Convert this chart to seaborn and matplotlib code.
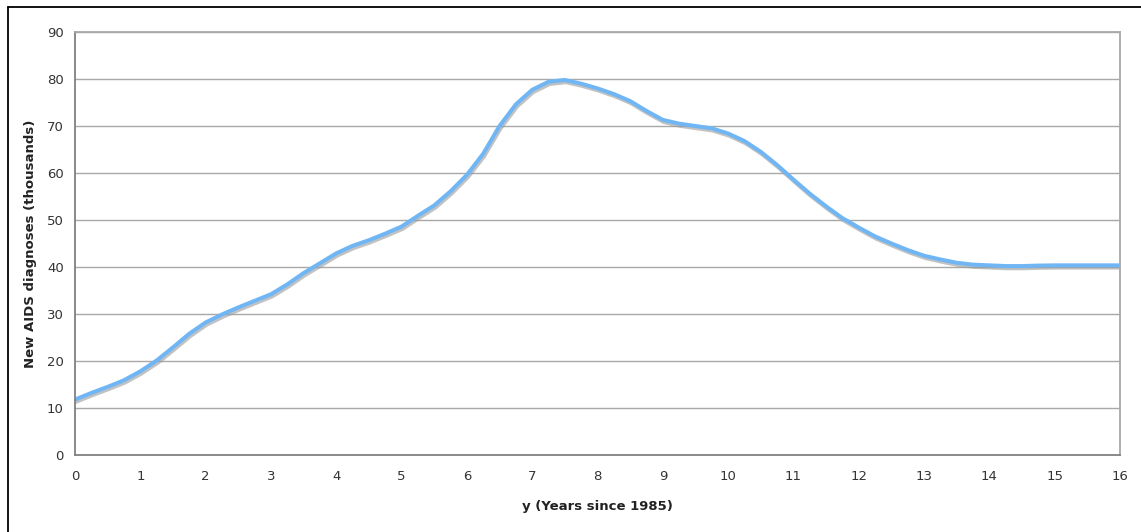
import matplotlib
matplotlib.use("Agg")
import matplotlib.pyplot as plt
import matplotlib.patheffects as pe
from matplotlib.lines import Line2D
import seaborn as sns
import pandas as pd

jahre = [0, 0.25, 0.5, 0.75, 1, 1.25, 1.5, 1.75, 2, 2.25, 2.5, 2.75, 3, 3.25, 3.5, 3.75,
         4, 4.25, 4.5, 4.75, 5, 5.25, 5.5, 5.75, 6, 6.25, 6.5, 6.75, 7, 7.25, 7.5, 7.75,
         8, 8.25, 8.5, 8.75, 9, 9.25, 9.5, 9.75, 10, 10.25, 10.5, 10.75, 11, 11.25, 11.5, 11.75,
         12, 12.25, 12.5, 12.75, 13, 13.25, 13.5, 13.75, 14, 14.25, 14.5, 14.75, 15, 15.5, 16]
diagnosen = [11.8, 13.2, 14.5, 15.9, 17.8, 20.1, 22.9, 25.8, 28.2, 29.9, 31.4, 32.8, 34.2, 36.3, 38.7, 40.8,
             42.9, 44.5, 45.7, 47.1, 48.6, 50.9, 53.1, 56.1, 59.6, 64.1, 70.0, 74.6, 77.7, 79.4, 79.8, 79.0,
             78.0, 76.8, 75.3, 73.2, 71.3, 70.5, 70.0, 69.5, 68.4, 66.8, 64.5, 61.7, 58.6, 55.6, 52.9, 50.4,
             48.4, 46.5, 45.0, 43.6, 42.4, 41.6, 40.9, 40.5, 40.35, 40.2, 40.2, 40.3, 40.35, 40.35, 40.35]

x_ticks = list(range(0, 17))
y_ticks = list(range(0, 91, 10))

df = pd.DataFrame({'jahr': jahre, 'neu': diagnosen})

sns.set_style('white')
plt.rcParams['font.family'] = ['DejaVu Sans']

fig = plt.figure(figsize=(11.41, 5.32), dpi=100)
ax = fig.add_axes([75 / 1141, 1 - 455 / 532, (1120 - 75) / 1141, (455 - 32) / 532])

for y in y_ticks[1:]:
    ax.axhline(y, color='#a8a8a8', linewidth=1.0, zorder=0)

sns.lineplot(data=df, x='jahr', y='neu', ax=ax, color='#70b6f4', linewidth=2.9,
             solid_joinstyle='round', solid_capstyle='round',
             path_effects=[pe.SimpleLineShadow(offset=(0.8, -1.6), shadow_color='#9a9a9a', alpha=0.6),
                           pe.Normal()])

ax.set_xlim(0, 16)
ax.set_ylim(0, 90)
ax.set_xticks(x_ticks)
ax.set_yticks(y_ticks)
ax.tick_params(axis='both', labelsize=9.5, colors='#333333', length=3, width=1,
               direction='out')
ax.tick_params(axis='both', color='#808080')
ax.tick_params(axis='x', pad=8)
ax.tick_params(axis='y', pad=5)

for side in ['left', 'bottom']:
    ax.spines[side].set_color('#808080')
    ax.spines[side].set_linewidth(1.3)
for side in ['top', 'right']:
    ax.spines[side].set_color('#a8a8a8')
    ax.spines[side].set_linewidth(1.3)

ax.set_xlabel('y (Years since 1985)', fontsize=9.5, fontweight='bold', color='#222222')
ax.set_ylabel('New AIDS diagnoses (thousands)', fontsize=9.5, fontweight='bold', color='#222222')
ax.xaxis.set_label_coords(0.5, -0.106)
ax.yaxis.set_label_coords(-0.0364, 0.5)

# schwarzer Rahmen oben und links
fig.add_artist(Line2D([7.5 / 1141, 1.0], [1 - 7 / 532, 1 - 7 / 532], color='black', linewidth=1.3))
fig.add_artist(Line2D([7.5 / 1141, 7.5 / 1141], [0.0, 1 - 7 / 532], color='black', linewidth=1.3))

fig.savefig('out.png', dpi=100)
